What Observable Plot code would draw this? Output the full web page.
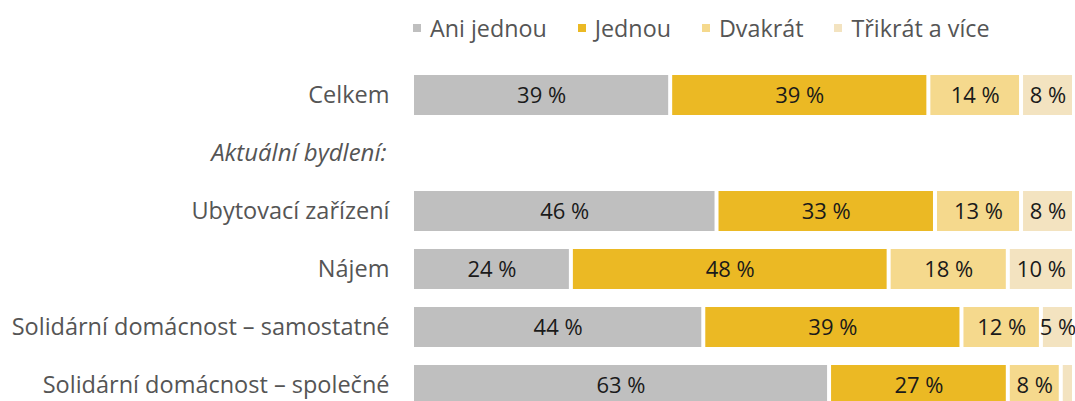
<!DOCTYPE html>
<html>
<head>
<meta charset="utf-8">
<script src="https://cdn.jsdelivr.net/npm/d3@7"></script>
<script src="https://cdn.jsdelivr.net/npm/@observablehq/plot@0.6"></script>
<style>
  html, body { margin: 0; padding: 0; background: #fff; overflow: hidden; }
  body { width: 1075px; height: 401px; position: relative; font-family: "Open Sans", sans-serif; }
  #legend { position: absolute; left: 413px; top: 10px; height: 36px; line-height: 36px; display: flex; align-items: center; gap: 31px; font-size: 23.3px; color: #555; }
  .item { display: flex; align-items: center; gap: 9px; }
  .sw { width: 8px; height: 8px; display: inline-block; }
  #chart { position: absolute; left: 0; top: 0; }
</style>
</head>
<body>
<div id="legend"></div>
<div id="chart"></div>
<script>
const header = "Aktuální bydlení:";
const categories = ["Celkem", header, "Ubytovací zařízení", "Nájem", "Solidární domácnost – samostatné", "Solidární domácnost – společné"];
const groups = ["Celkem", "Ubytovací zařízení", "Nájem", "Solidární domácnost – samostatné", "Solidární domácnost – společné"];
const series = ["Ani jednou", "Jednou", "Dvakrát", "Třikrát a více"];
const colors = ["#bfbfbf", "#ebb924", "#f5d98d", "#f3e3c0"];
const aniJednou = [39, 46, 24, 44, 63];
const jednou = [39, 33, 48, 39, 27];
const dvakrat = [14, 13, 18, 12, 8];
const trikrat = [8, 8, 10, 5, 2];

const values = [aniJednou, jednou, dvakrat, trikrat];
const data = [];
groups.forEach((g, i) => series.forEach((s, j) => data.push({group: g, series: s, value: values[j][i]})));

// legend
const legend = document.getElementById("legend");
series.forEach((s, j) => {
  const it = document.createElement("div");
  it.className = "item";
  it.innerHTML = `<span class="sw" style="background:${colors[j]}"></span><span>${s}</span>`;
  legend.appendChild(it);
});

const chart = Plot.plot({
  width: 1075,
  height: 423,
  marginTop: 57,
  marginBottom: 0,
  marginLeft: 412,
  marginRight: 1,
  style: {fontFamily: "Open Sans, sans-serif", fontSize: "22px", background: "transparent"},
  x: {domain: [0, 100], axis: null},
  y: {domain: categories, padding: 0.31, label: null},
  color: {domain: series, range: colors},
  marks: [
    Plot.axisY({tickSize: 0, tickPadding: 23, fontSize: 23.5, color: "#555", label: null,
      tickFormat: d => d === header ? "" : d}),
    Plot.text([header], {y: d => d, text: d => d, frameAnchor: "left", dx: -26, textAnchor: "end",
      fontStyle: "italic", fontSize: 24, fill: "#555"}),
    Plot.barX(data, {x: "value", y: "group", fill: "series", insetLeft: 2, insetRight: 2, order: series}),
    Plot.text(data, Plot.stackX({x: "value", y: "group", z: "series", order: series,
      text: d => d.value >= 5 ? `${d.value} %` : "", fill: "#1a1a1a", fontSize: 22}))
  ]
});
document.getElementById("chart").appendChild(chart);
</script>
</body>
</html>
